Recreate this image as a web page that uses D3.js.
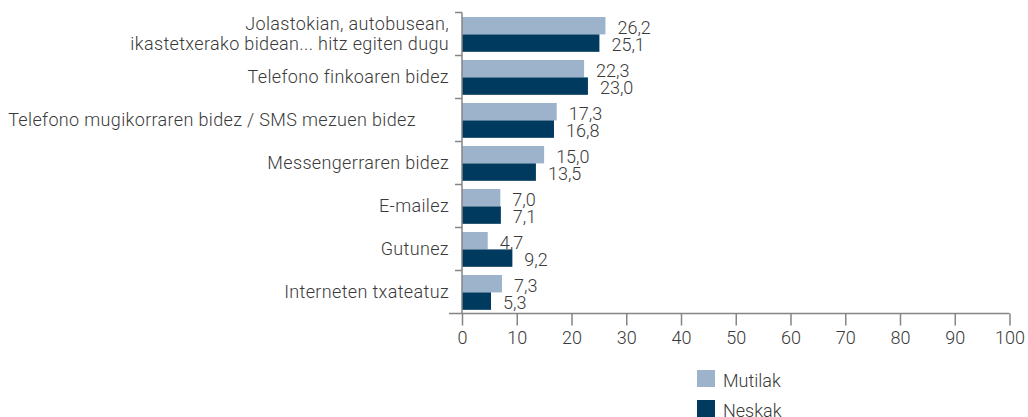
<!DOCTYPE html>
<html>
<head>
<meta charset="utf-8">
<script src="https://cdn.jsdelivr.net/npm/d3@7"></script>
<style>
  html, body { margin: 0; padding: 0; background: #fff; }
  svg text { font-family: Roboto, "Liberation Sans", sans-serif; font-weight: 300; fill: #3a3a3a; white-space: pre; }
  svg text.cat { letter-spacing: 0.35px; }
</style>
</head>
<body>
<svg id="chart" width="1028" height="417"></svg>
<script>
// Categories (top to bottom); multi-line labels split on "\n"
const categories = [
  "Jolastokian, autobusean,\nikastetxerako bidean... hitz egiten dugu",
  "Telefono finkoaren bidez",
  "Telefono mugikorraren bidez / SMS mezuen bidez       ",
  "Messengerraren bidez",
  "E-mailez",
  "Gutunez",
  "Interneten txateatuz"
];
const seriesNames = ["Mutilak", "Neskak"];
const mutilak = [26.2, 22.3, 17.3, 15.0, 7.0, 4.7, 7.3];
const neskak  = [25.1, 23.0, 16.8, 13.5, 7.1, 9.2, 5.3];
const xTicks = [0, 10, 20, 30, 40, 50, 60, 70, 80, 90, 100];
const colors = ["#9db3cb", "#003a5f"];

const svg = d3.select("#chart");
const plotLeft = 462, plotRight = 1009.5, plotTop = 12.5, plotBottom = 313.5;
const axisColor = "#858585";
const fontSize = 18;

const x = d3.scaleLinear().domain([0, 100]).range([plotLeft, plotRight]);
const y = d3.scaleBand().domain(d3.range(categories.length)).range([plotTop, plotBottom])
  .paddingInner(0.19).paddingOuter(0.095).align(0.55);
const ySub = d3.scaleBand().domain([0, 1]).range([0, y.bandwidth()]);
const fmt = v => d3.format(".1f")(v).replace(".", ",");

const series = [mutilak, neskak];

// bars
series.forEach((vals, s) => {
  svg.append("g").selectAll("rect").data(vals).join("rect")
    .attr("x", x(0))
    .attr("y", (d, i) => y(i) + ySub(s))
    .attr("width", d => x(d) - x(0))
    .attr("height", ySub.bandwidth())
    .attr("fill", colors[s]);
});

// value labels
series.forEach((vals, s) => {
  svg.append("g").selectAll("text").data(vals).join("text")
    .attr("x", d => x(d) + 12)
    .attr("y", (d, i) => y(i) + ySub(s) + ySub.bandwidth() - 0.5)
    .attr("font-size", fontSize)
    .text(d => fmt(d));
});

// y axis: vertical line with ticks at band boundaries
const step = (plotBottom - plotTop) / categories.length;
const yAxis = svg.append("g").attr("stroke", axisColor).attr("stroke-width", 1.5);
yAxis.append("line").attr("x1", plotLeft).attr("x2", plotLeft).attr("y1", plotTop).attr("y2", plotBottom);
d3.range(categories.length).forEach(i => {
  const yy = plotTop + i * step;
  yAxis.append("line").attr("x1", plotLeft - 7).attr("x2", plotLeft).attr("y1", yy).attr("y2", yy);
});

// category labels
categories.forEach((c, i) => {
  const lines = c.split("\n");
  const cy = plotTop + (i + 0.5) * step;
  const t = svg.append("text").attr("class", "cat").attr("text-anchor", "end").attr("font-size", fontSize);
  lines.forEach((ln, j) => {
    t.append("tspan").attr("x", plotLeft - 13)
      .attr("y", cy + (j - (lines.length - 1) / 2) * 19.5 + 6)
      .text(ln);
  });
});

// x axis
const xAxis = svg.append("g").attr("transform", `translate(0,${plotBottom})`)
  .call(d3.axisBottom(x).tickValues(xTicks).tickSize(12).tickPadding(6).tickFormat(d => d));
xAxis.select(".domain").remove();
xAxis.append("line").attr("x1", plotLeft - 13).attr("x2", plotRight).attr("y1", 0).attr("y2", 0)
  .attr("stroke", axisColor).attr("stroke-width", 1.5);
xAxis.selectAll(".tick line").attr("stroke", axisColor).attr("stroke-width", 1.5);
xAxis.selectAll(".tick text").attr("font-size", fontSize).attr("fill", "#3a3a3a")
  .attr("font-family", "Roboto, 'Liberation Sans', sans-serif").attr("font-weight", 300);

// legend
const legend = svg.append("g").attr("transform", "translate(697,370)");
seriesNames.forEach((n, i) => {
  const g = legend.append("g").attr("transform", `translate(0,${i * 30})`);
  g.append("rect").attr("width", 18).attr("height", 17).attr("fill", colors[i]);
  g.append("text").attr("x", 26).attr("y", 16.5).attr("font-size", fontSize).text(n);
});
</script>
</body>
</html>
